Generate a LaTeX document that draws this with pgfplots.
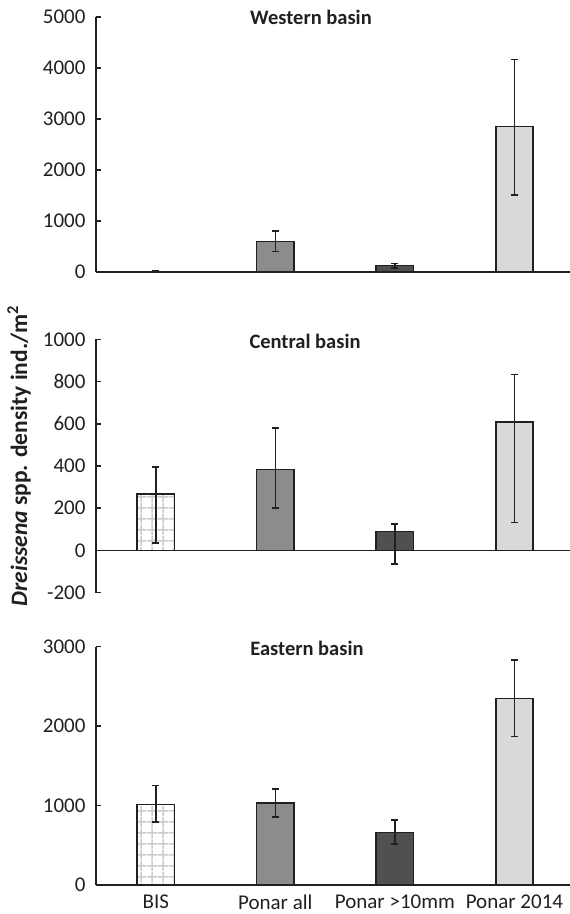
\documentclass[border=0pt]{standalone}
\usepackage{pgfplots}
\pgfplotsset{compat=1.18}
\usepackage{fontspec}
\setmainfont{Carlito}
\usetikzlibrary{patterns.meta}

\definecolor{cAll}{HTML}{8C8C8C}
\definecolor{cBig}{HTML}{505050}
\definecolor{cNew}{HTML}{D9D9D9}
\definecolor{cGrid}{HTML}{CCCCCC}
\definecolor{ink}{HTML}{202020}

\tikzdeclarepattern{
  name=bisgrid,
  type=uncolored,
  bounding box={(0pt,0pt) and (10.5pt,10.5pt)},
  tile size={(10.5pt,10.5pt)},
  code={
    \draw[line width=1.6pt] (0pt,5.25pt) -- (10.5pt,5.25pt);
    \draw[line width=1.6pt] (5.25pt,0pt) -- (5.25pt,10.5pt);
  }
}

\pgfplotsset{
  panel/.style={
    scale only axis, width=474pt,
    xmin=-0.5, xmax=3.465,
    axis y line*=left,
    xtick=\empty,
    tick align=inside,
    major tick length=5pt,
    y tick style={line width=1.5pt, ink},
    axis line style={line width=1.6pt, ink},
    tick label style={font=\fontsize{21}{24}\selectfont, text=ink},
    y tick label style={xshift=-7pt},
    /pgf/number format/assume math mode=true,
    /pgf/number format/1000 sep={},
    title style={anchor=center, font=\bfseries\fontsize{20.5}{24}\selectfont, text=ink},
  },
  barplot/.style={
    ybar, bar width=37.5pt, bar shift=0pt,
    draw=ink, line width=1.7pt,
    error bars/y dir=both, error bars/y explicit,
    error bars/error bar style={line width=1.5pt, ink},
    error bars/error mark options={rotate=90, line width=1.5pt, mark size=3.5pt, ink},
  },
}

\begin{document}
\begin{tikzpicture}
\path[use as bounding box] (0pt,0pt) rectangle (570pt,-914pt);

% Western basin
\begin{axis}[panel, at={(96pt,-272pt)}, anchor=south west,
  height=255pt, ymin=0, ymax=5000, ytick={0,1000,...,5000},
  axis x line*=bottom,
  title={Western basin}, title style={at={(0.4536,0.975)}}]
\addplot[barplot, fill=white, postaction={pattern=bisgrid, pattern color=cGrid}]
  coordinates {(0,5) +=(0,25) -=(0,5)};
\addplot[barplot, fill=cAll] coordinates {(1,596) +=(0,204) -=(0,189)};
\addplot[barplot, fill=cBig] coordinates {(2,126) +=(0,45) -=(0,45)};
\addplot[barplot, fill=cNew] coordinates {(3,2851) +=(0,1317) -=(0,1343)};
\end{axis}

% Central basin
\begin{axis}[panel, at={(96pt,-592.7pt)}, anchor=south west,
  height=253.4pt, ymin=-200, ymax=1000, ytick={-200,0,...,1000},
  axis x line*=middle,
  title={Central basin}, title style={at={(0.441,0.968)}}]
\addplot[barplot, fill=white, postaction={pattern=bisgrid, pattern color=cGrid}]
  coordinates {(0,266) +=(0,130) -=(0,230)};
\addplot[barplot, fill=cAll] coordinates {(1,383) +=(0,197) -=(0,181)};
\addplot[barplot, fill=cBig] coordinates {(2,90) +=(0,35) -=(0,154)};
\addplot[barplot, fill=cNew] coordinates {(3,608) +=(0,226) -=(0,475)};
\end{axis}

% Eastern basin
\begin{axis}[panel, at={(96pt,-885pt)}, anchor=south west,
  height=238.5pt, ymin=0, ymax=3000, ytick={0,1000,...,3000},
  axis x line*=bottom,
  xtick={0,1,2,3}, xticklabels={BIS, Ponar all, Ponar >10mm, Ponar 2014},
  x tick style={draw=none},
  x tick label style={yshift=-6pt},
  title={Eastern basin}, title style={at={(0.445,0.966)}}]
\addplot[barplot, fill=white, postaction={pattern=bisgrid, pattern color=cGrid}]
  coordinates {(0,1013) +=(0,238) -=(0,222)};
\addplot[barplot, fill=cAll] coordinates {(1,1033) +=(0,176) -=(0,176)};
\addplot[barplot, fill=cBig] coordinates {(2,661) +=(0,158) -=(0,147)};
\addplot[barplot, fill=cNew] coordinates {(3,2347) +=(0,482) -=(0,477)};
\end{axis}

\node[rotate=90, font=\bfseries\fontsize{23.5}{27}\selectfont, text=ink] at (19pt,-456pt)
  {\textit{Dreissena} spp. density ind./m\textsuperscript{2}};
\end{tikzpicture}
\end{document}
